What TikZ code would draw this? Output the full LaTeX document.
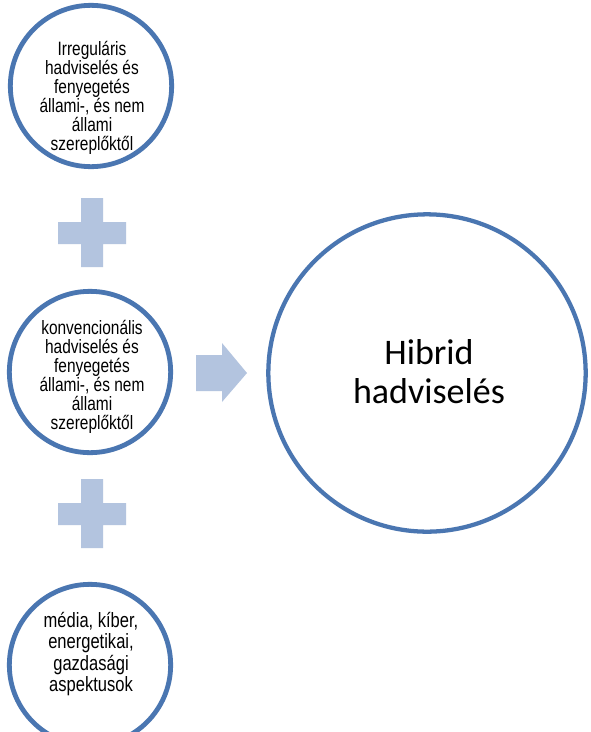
\documentclass[tikz,border=0pt]{standalone}
\usepackage{fontspec}
\newfontfamily\smallf[FakeStretch=0.8]{Liberation Sans}
\newfontfamily\bigf{Carlito}
\definecolor{ringblue}{HTML}{4A76B1}
\definecolor{shapeblue}{HTML}{B3C4DF}
\begin{document}
\begin{tikzpicture}[x=0.75pt,y=-0.75pt,
  smallring/.style={circle,draw=ringblue,line width=3.6pt,minimum size=121pt,inner sep=0pt},
  bigring/.style={circle,draw=ringblue,line width=3.2pt,minimum size=238pt,inner sep=0pt},
  smalltext/.style={align=center,inner sep=0pt,font=\smallf\fontsize{14.5pt}{14.2pt}\selectfont},
  bottomtext/.style={align=center,inner sep=0pt,font=\smallf\fontsize{15.5pt}{15.8pt}\selectfont},
  bigtext/.style={align=center,inner sep=0pt,font=\bigf\fontsize{27pt}{29.25pt}\selectfont},
  shapefill/.style={fill=shapeblue,draw=none}]
\useasboundingbox (0,0) rectangle (590,732);
\fill[white] (0,0) rectangle (590,732);
% rings
\node[smallring] (c1) at (91,86) {};
\node[smallring] (c2) at (90,372) {};
\node[smallring] (c3) at (90,665) {};
\node[bigring] (big) at (427,373) {};
% texts
\node[smalltext] (t1) at (92,98) {Irreguláris\\hadviselés és\\fenyegetés\\állami-, és nem\\állami\\szereplőktől};
\node[smalltext] (t2) at (92,377) {konvencionális\\hadviselés és\\fenyegetés\\állami-, és nem\\állami\\szereplőktől};
\node[bottomtext] (t3) at (91,654) {média, kíber,\\energetikai,\\gazdasági\\aspektusok};
\node[bigtext] (tb) at (429,372) {Hibrid\\hadviselés};
% plus signs
\fill[shapefill] (81,198) -- (103,198) -- (103,222) -- (126,222) -- (126,244) -- (103,244) -- (103,267) -- (81,267) -- (81,244) -- (58,244) -- (58,222) -- (81,222) -- cycle;
\fill[shapefill] (81,479) -- (103,479) -- (103,503) -- (126,503) -- (126,525) -- (103,525) -- (103,548) -- (81,548) -- (81,525) -- (58,525) -- (58,503) -- (81,503) -- cycle;
% arrow
\fill[shapefill] (196,355) -- (222,355) -- (222,343) -- (247,373) -- (222,402) -- (222,391) -- (196,391) -- cycle;
\end{tikzpicture}
\end{document}
